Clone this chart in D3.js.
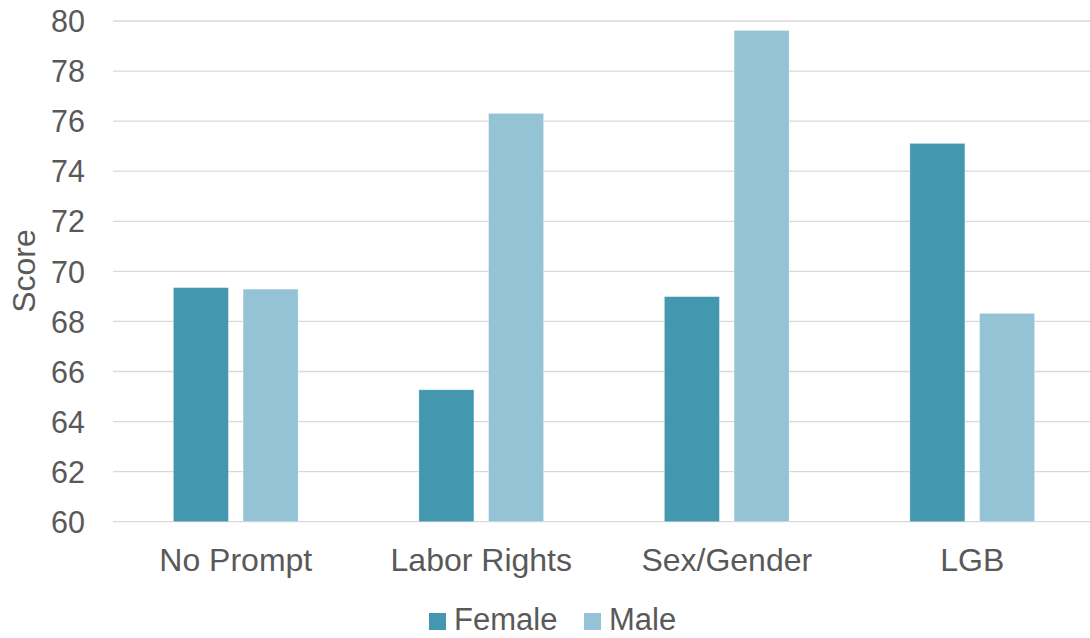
<!DOCTYPE html>
<html>
<head>
<meta charset="utf-8">
<script src="https://cdn.jsdelivr.net/npm/d3@7"></script>
<style>
  html, body { margin: 0; padding: 0; background: #fff; }
  svg { display: block; font-family: "Liberation Sans", Arial, sans-serif; }
</style>
</head>
<body>
<svg id="chart" width="1090" height="638"></svg>
<script>
const categories = ["No Prompt", "Labor Rights", "Sex/Gender", "LGB"];
const seriesNames = ["Female", "Male"];
const femaleValues = [69.35, 65.27, 68.99, 75.11];
const maleValues = [69.29, 76.31, 79.62, 68.32];
const yTicks = [60, 62, 64, 66, 68, 70, 72, 74, 76, 78, 80];
const colors = ["#4398AF", "#94C3D5"];

const svg = d3.select("#chart");
const plotLeft = 113, plotRight = 1095, plotTop = 21, plotBottom = 521.7;

const x0 = d3.scaleBand().domain(categories).range([plotLeft, plotRight]).paddingInner(0.492).paddingOuter(0.246);
const x1 = d3.scaleBand().domain(seriesNames).range([0, x0.bandwidth()]).paddingInner(0.211).paddingOuter(0);
const y = d3.scaleLinear().domain([60, 80]).range([plotBottom, plotTop]);
const color = d3.scaleOrdinal().domain(seriesNames).range(colors);

// gridlines
svg.append("g").selectAll("line").data(yTicks).join("line")
  .attr("x1", plotLeft).attr("x2", plotRight)
  .attr("y1", d => y(d)).attr("y2", d => y(d))
  .attr("stroke", "#d9d9d9").attr("stroke-width", 1.3);

// y axis labels
const yAxis = d3.axisLeft(y).tickValues(yTicks).tickSize(0).tickPadding(28).tickFormat(d3.format("d"));
const yg = svg.append("g").attr("transform", `translate(${plotLeft},0)`).call(yAxis);
yg.select(".domain").remove();
yg.selectAll("text").attr("fill", "#595959").style("font-family", "'Liberation Sans', Arial, sans-serif").style("font-size", "30.5px").attr("dy", "0.35em");

// bars
const rows = categories.map((c, i) => ({ cat: c, vals: [femaleValues[i], maleValues[i]] }));
const groups = svg.append("g").selectAll("g").data(rows).join("g")
  .attr("transform", d => `translate(${x0(d.cat)},0)`);
groups.selectAll("rect").data(d => seriesNames.map((s, j) => ({ s, v: d.vals[j] }))).join("rect")
  .attr("x", d => x1(d.s))
  .attr("width", x1.bandwidth())
  .attr("y", d => y(d.v))
  .attr("height", d => y(60) - y(d.v))
  .attr("fill", d => color(d.s))
  .attr("stroke", "#ffffff").attr("stroke-opacity", 0.35).attr("stroke-width", 0.8);

// x axis labels
const xAxis = d3.axisBottom(x0).tickSize(0).tickPadding(0);
const xg = svg.append("g").attr("transform", `translate(0,${plotBottom})`).call(xAxis);
xg.select(".domain").remove();
xg.selectAll("text").attr("fill", "#595959").style("font-family", "'Liberation Sans', Arial, sans-serif").style("font-size", "32px").attr("dy", null).attr("y", 49);

// y title
svg.append("text")
  .attr("transform", "translate(35,271) rotate(-90)")
  .attr("text-anchor", "middle")
  .attr("fill", "#595959").style("font-size", "32px")
  .text("Score");

// legend
const legendItems = [{ name: "Female", x: 429 }, { name: "Male", x: 584 }];
const lg = svg.append("g").selectAll("g").data(legendItems).join("g")
  .attr("transform", d => `translate(${d.x},613)`);
lg.append("rect").attr("width", 17).attr("height", 17).attr("fill", d => color(d.name));
lg.append("text").attr("x", 25).attr("y", 17).attr("fill", "#595959").style("font-size", "31px").text(d => d.name);
</script>
</body>
</html>
